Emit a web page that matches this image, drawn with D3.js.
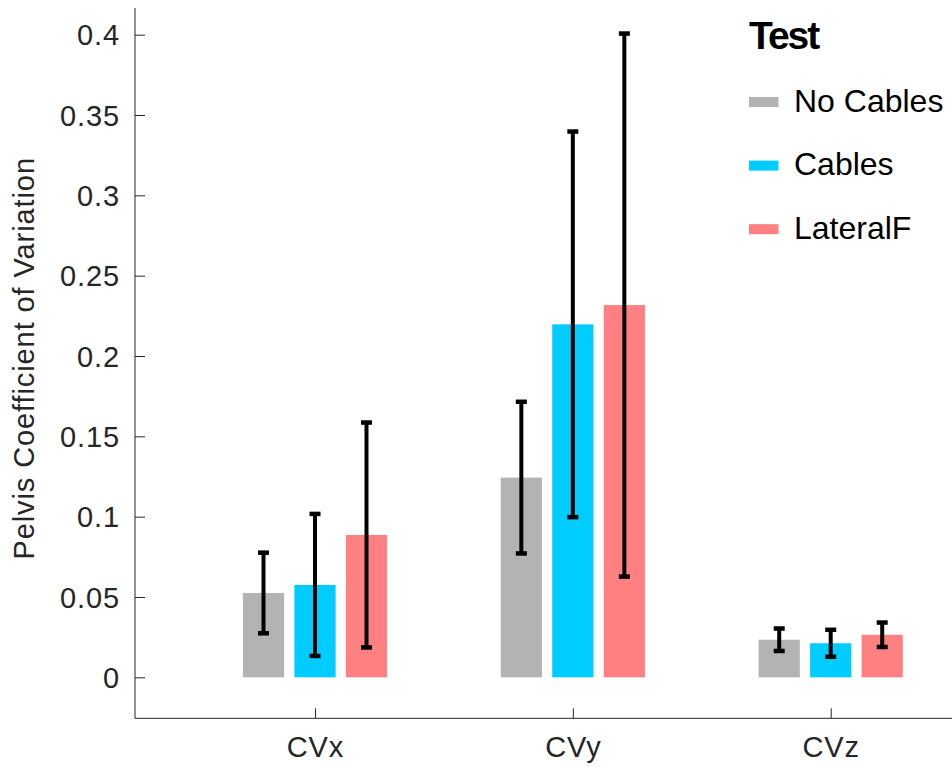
<!DOCTYPE html>
<html>
<head>
<meta charset="utf-8">
<script src="https://cdn.jsdelivr.net/npm/d3@7/dist/d3.min.js"></script>
<style>
  html, body { margin: 0; padding: 0; background: #fff; }
  svg { display: block; font-family: "Liberation Sans", Arial, Helvetica, sans-serif; }
</style>
</head>
<body>
<svg id="chart" width="952" height="767"></svg>
<script>
// Categories, groups and their values
const categories = ["CVx", "CVy", "CVz"];
const seriesNames = ["No Cables", "Cables", "LateralF"];
const seriesColors = ["#b3b3b3", "#00ccff", "#ff8080"];
const noCables = [0.0525, 0.1243, 0.0234];
const cables = [0.0575, 0.2197, 0.0212];
const lateralF = [0.0886, 0.2317, 0.0265];
// Standard deviations (symmetric error bars)
const noCablesSD = [0.0251, 0.0472, 0.0070];
const cablesSD = [0.0442, 0.1200, 0.0084];
const lateralFSD = [0.0700, 0.1690, 0.0076];
const yTicks = [0, 0.05, 0.1, 0.15, 0.2, 0.25, 0.3, 0.35, 0.4];
const yTickLabels = ["0", "0.05", "0.1", "0.15", "0.2", "0.25", "0.3", "0.35", "0.4"];
const legendTitle = "Test";
const yTitle = "Pelvis Coefficient of Variation";

const seriesValues = [noCables, cables, lateralF];
const seriesSD = [noCablesSD, cablesSD, lateralFSD];

const svg = d3.select("#chart");
const axisColor = "#262626";

// Plot frame
const plotLeft = 135, plotRight = 952, plotTop = 8, plotBottom = 718.3;

const y = d3.scaleLinear().domain([-0.0255, 0.4166]).range([plotBottom, plotTop]);
const x = d3.scalePoint().domain(categories).range([315, 830.7]);
const xSub = d3.scaleBand().domain(seriesNames).range([-77.25, 77.25])
  .paddingInner(0.2).paddingOuter(0.1);

// Bars
const rows = [];
seriesNames.forEach((s, si) => {
  categories.forEach((c, ci) => {
    rows.push({ s, si, c, v: seriesValues[si][ci], sd: seriesSD[si][ci] });
  });
});

svg.append("g").selectAll("rect").data(rows).join("rect")
  .attr("x", d => x(d.c) + xSub(d.s))
  .attr("width", xSub.bandwidth())
  .attr("y", d => y(d.v))
  .attr("height", d => y(0) - y(d.v))
  .attr("fill", d => seriesColors[d.si]);

// Error bars
const eb = svg.append("g").selectAll("g").data(rows).join("g")
  .attr("transform", d => `translate(${x(d.c) + xSub(d.s) + xSub.bandwidth() / 2},0)`);
eb.append("line")
  .attr("x1", 0).attr("x2", 0)
  .attr("y1", d => y(d.v + d.sd)).attr("y2", d => y(d.v - d.sd))
  .attr("stroke", "#000").attr("stroke-width", 4);
eb.append("rect")
  .attr("x", -5.5).attr("width", 11)
  .attr("y", d => y(d.v + d.sd) - 2.25).attr("height", 4.5)
  .attr("fill", "#000");
eb.append("rect")
  .attr("x", -5.5).attr("width", 11)
  .attr("y", d => y(d.v - d.sd) - 2.25).attr("height", 4.5)
  .attr("fill", "#000");

// Y axis (ticks point inward)
const yAxis = d3.axisLeft(y).tickValues(yTicks)
  .tickFormat((d, i) => yTickLabels[i]).tickSize(-10).tickPadding(25);
const gy = svg.append("g").attr("transform", `translate(${plotLeft},0)`).call(yAxis);
gy.select(".domain").remove();
gy.selectAll(".tick line").attr("stroke", axisColor).attr("stroke-width", 1);
gy.selectAll(".tick text")
  .attr("fill", axisColor).attr("font-size", 29).attr("letter-spacing", "0.9px")
  .attr("dy", "0.35em").attr("x", -15);
svg.append("line").attr("x1", plotLeft).attr("x2", plotLeft).attr("y1", plotTop).attr("y2", plotBottom)
  .attr("stroke", axisColor).attr("stroke-width", 1);

// X axis
const xAxis = d3.axisBottom(x).tickSize(-10).tickPadding(0);
const gx = svg.append("g").attr("transform", `translate(0,${plotBottom})`).call(xAxis);
gx.select(".domain").remove();
gx.selectAll(".tick line").attr("stroke", axisColor).attr("stroke-width", 1);
gx.selectAll(".tick text")
  .attr("fill", axisColor).attr("font-size", 29).attr("letter-spacing", "0.9px")
  .attr("dy", null).attr("y", 38.5);
svg.append("line").attr("x1", plotLeft).attr("x2", plotRight).attr("y1", plotBottom).attr("y2", plotBottom)
  .attr("stroke", axisColor).attr("stroke-width", 1);

// Y axis title
svg.append("text")
  .attr("transform", `translate(33.5,358.3) rotate(-90)`)
  .attr("text-anchor", "middle")
  .attr("font-size", 29).attr("letter-spacing", "0.9px")
  .attr("fill", axisColor)
  .text(yTitle);

// Legend
const lg = svg.append("g");
lg.append("text").attr("x", 749).attr("y", 49.3)
  .attr("font-size", 39).attr("font-weight", "bold").attr("letter-spacing", "-2px")
  .attr("fill", "#000").text(legendTitle);
const item = lg.selectAll("g.item").data(seriesNames).join("g")
  .attr("class", "item")
  .attr("transform", (d, i) => `translate(0,${102 + i * 63.6})`);
item.append("rect").attr("x", 749).attr("y", -5).attr("width", 29.5).attr("height", 10)
  .attr("fill", (d, i) => seriesColors[i]);
item.append("text").attr("x", 794).attr("y", 9.7)
  .attr("font-size", 32).attr("fill", "#000").text(d => d);
</script>
</body>
</html>
